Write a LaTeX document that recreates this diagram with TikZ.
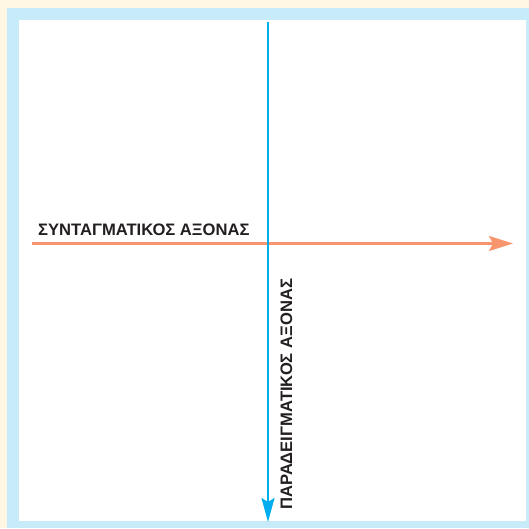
\documentclass[tikz,border=0pt]{standalone}
\usepackage{fontspec}
\setmainfont{Liberation Sans}
\usetikzlibrary{arrows.meta}
\definecolor{beige}{RGB}{255,246,228}
\definecolor{framebl}{RGB}{200,235,250}
\definecolor{axisor}{RGB}{247,150,110}
\definecolor{axisbl}{RGB}{0,174,239}
\definecolor{txt}{RGB}{35,31,32}
\tikzset{
  axislabel/.style={font=\bfseries\fontsize{16.6}{18}\selectfont, text=txt, inner sep=0pt},
  axisline/.style={line width=2.2pt},
}
\begin{document}
\begin{tikzpicture}[x=1pt,y=-1pt]
\useasboundingbox (0,0) rectangle (529,528);
\fill[beige] (0,0) rectangle (529,528);
\fill[framebl] (7,8) rectangle (529,528);
\fill[white] (19,20) rectangle (526,521);
\coordinate (hs) at (32,243.5);
\coordinate (he) at (513,243.5);
\coordinate (vs) at (268,22);
\coordinate (ve) at (268,522);
\draw[axisline, axisor, -{Stealth[length=24pt,width=15pt,inset=4pt]}] (hs) -- (he);
\draw[axisline, axisbl, -{Stealth[length=24pt,width=13pt,inset=4pt]}] (vs) -- (ve);
\node[axislabel, anchor=base west] (hl) at (38,235) {ΣΥΝΤΑΓΜΑΤΙΚΟΣ ΑΞΟΝΑΣ};
\node[axislabel, anchor=base west, rotate=90] (vl) at (292,510) {ΠΑΡΑΔΕΙΓΜΑΤΙΚΟΣ ΑΞΟΝΑΣ};
\end{tikzpicture}
\end{document}
